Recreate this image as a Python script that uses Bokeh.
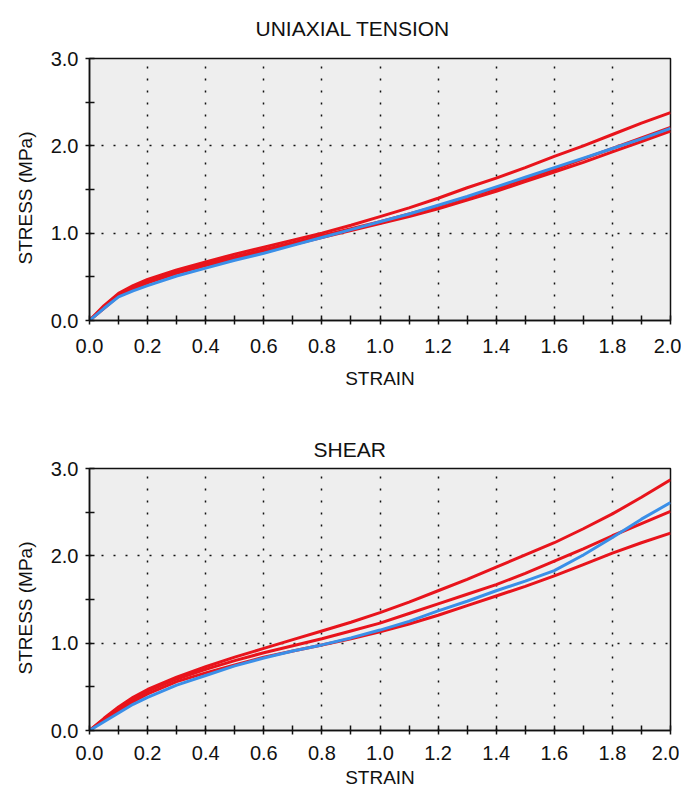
from bokeh.plotting import figure
from bokeh.layouts import column
from bokeh.models import FixedTicker, Title
from bokeh.embed import file_html
from bokeh.resources import INLINE

# ---------------- data ----------------
strain = [0.0, 0.05, 0.1, 0.15, 0.2, 0.3, 0.4, 0.5, 0.6, 0.7, 0.8, 0.9, 1.0,
          1.1, 1.2, 1.3, 1.4, 1.5, 1.6, 1.7, 1.8, 1.9, 2.0]

tension_test_a = [0.00, 0.17, 0.31, 0.40, 0.47, 0.58, 0.67, 0.76, 0.84, 0.92, 1.00, 1.09,
                  1.19, 1.29, 1.40, 1.52, 1.63, 1.75, 1.88, 2.00, 2.13, 2.26, 2.38]
tension_test_b = [0.00, 0.16, 0.30, 0.38, 0.45, 0.56, 0.65, 0.73, 0.81, 0.89, 0.97, 1.05,
                  1.13, 1.22, 1.31, 1.41, 1.51, 1.62, 1.73, 1.85, 1.97, 2.09, 2.21]
tension_test_c = [0.00, 0.14, 0.28, 0.36, 0.43, 0.54, 0.63, 0.71, 0.79, 0.87, 0.95, 1.03,
                  1.11, 1.19, 1.28, 1.38, 1.48, 1.59, 1.70, 1.81, 1.93, 2.05, 2.17]
tension_model = [0.00, 0.14, 0.27, 0.34, 0.40, 0.51, 0.60, 0.69, 0.77, 0.86, 0.95, 1.04,
                 1.13, 1.22, 1.32, 1.42, 1.53, 1.64, 1.75, 1.86, 1.97, 2.08, 2.20]

shear_test_a = [0.00, 0.14, 0.27, 0.38, 0.47, 0.61, 0.73, 0.84, 0.94, 1.04, 1.14, 1.24,
                1.35, 1.47, 1.60, 1.73, 1.87, 2.01, 2.15, 2.31, 2.48, 2.67, 2.87]
shear_test_b = [0.00, 0.13, 0.25, 0.36, 0.45, 0.59, 0.70, 0.80, 0.89, 0.97, 1.05, 1.14,
                1.23, 1.34, 1.45, 1.56, 1.67, 1.80, 1.94, 2.08, 2.23, 2.37, 2.51]
shear_test_c = [0.00, 0.12, 0.23, 0.33, 0.42, 0.56, 0.66, 0.75, 0.84, 0.91, 0.98, 1.05,
                1.13, 1.22, 1.32, 1.43, 1.54, 1.65, 1.77, 1.90, 2.03, 2.15, 2.26]
shear_model = [0.00, 0.10, 0.20, 0.30, 0.38, 0.52, 0.63, 0.74, 0.83, 0.91, 0.98, 1.06,
               1.15, 1.25, 1.37, 1.48, 1.60, 1.71, 1.83, 2.01, 2.21, 2.42, 2.61]

x_ticks = [0.0, 0.2, 0.4, 0.6, 0.8, 1.0, 1.2, 1.4, 1.6, 1.8, 2.0]
x_tick_labels = ["0.0", "0.2", "0.4", "0.6", "0.8", "1.0", "1.2", "1.4", "1.6", "1.8", "2.0"]
x_minor = [0.1, 0.3, 0.5, 0.7, 0.9, 1.1, 1.3, 1.5, 1.7, 1.9]
x_grid = [0.2, 0.4, 0.6, 0.8, 1.0, 1.2, 1.4, 1.6, 1.8]
y_ticks = [0.0, 1.0, 2.0, 3.0]
y_tick_labels = ["0.0", "1.0", "2.0", "3.0"]
y_minor = [0.5, 1.5, 2.5]
y_grid = [1.0, 2.0]

RED = "#e8141c"
BLUE = "#3a8fe8"
FONT = "Liberation Sans"
INK = "#111111"


def make_panel(title, title_off, title_valign, title_standoff, tick_standoff,
               xlabel_standoff, tests, model, left, right, top, bottom, fw, fh):
    p = figure(frame_width=fw, frame_height=fh, x_range=(0, 2), y_range=(0, 3),
               output_backend="svg", toolbar_location=None,
               min_border_left=left, min_border_right=right,
               min_border_top=top, min_border_bottom=bottom,
               background_fill_color="#eeeeee", border_fill_color="white")
    p.title = Title(text=title, align="left", offset=title_off, text_font=FONT,
                    text_font_size="21px", text_font_style="normal",
                    vertical_align=title_valign,
                    text_color=INK, standoff=title_standoff)
    p.outline_line_color = INK
    p.outline_line_width = 1.5

    for ax in (p.xaxis[0], p.yaxis[0]):
        ax.axis_line_width = 1.5
        ax.axis_line_color = INK
        ax.major_tick_line_width = 1.5
        ax.minor_tick_line_width = 1.5
        ax.major_tick_line_color = INK
        ax.minor_tick_line_color = INK
        ax.major_tick_in = 5
        ax.major_tick_out = 4
        ax.minor_tick_in = 5
        ax.minor_tick_out = 4
        ax.major_label_text_font = FONT
        ax.major_label_text_font_size = "20px"
        ax.major_label_text_color = INK
        ax.axis_label_text_font = FONT
        ax.axis_label_text_font_size = "19px"
        ax.axis_label_text_font_style = "normal"
        ax.axis_label_text_color = INK

    p.xaxis.ticker = FixedTicker(ticks=x_ticks, minor_ticks=x_minor)
    p.xaxis.major_label_overrides = dict(zip(x_ticks, x_tick_labels))
    p.yaxis.ticker = FixedTicker(ticks=y_ticks, minor_ticks=y_minor)
    p.yaxis.major_label_overrides = dict(zip(y_ticks, y_tick_labels))
    p.xaxis.axis_label = "STRAIN"
    p.xaxis.major_label_standoff = tick_standoff
    p.yaxis.major_label_standoff = 7
    p.xaxis.axis_label_standoff = xlabel_standoff

    # y-axis title, drawn as a side title so it can sit a little below centre
    p.add_layout(Title(text="STRESS (MPa)", align="left", offset=56,
                       vertical_align="bottom", standoff=24, text_font=FONT,
                       text_font_size="19px", text_font_style="normal",
                       text_color=INK), "left")

    p.xgrid.ticker = FixedTicker(ticks=x_grid)
    p.ygrid.ticker = FixedTicker(ticks=y_grid)
    for g in (p.xgrid[0], p.ygrid[0]):
        g.grid_line_color = INK
        g.grid_line_dash = "2 10"
        g.grid_line_width = 1.5

    for t in tests:
        p.line(strain, t, line_color=RED, line_width=3)
    p.line(strain, model, line_color=BLUE, line_width=3)
    return p


p1 = make_panel("UNIAXIAL TENSION", 166, "top", 33, 14, 12,
                [tension_test_a, tension_test_b, tension_test_c], tension_model,
                86, 11, 58, 87, 581, 262)
p2 = make_panel("SHEAR", 224, "bottom", 16, 11, 4,
                [shear_test_a, shear_test_b, shear_test_c], shear_model,
                88, 9, 61, 64, 581, 262)

layout = column(p1, p2, spacing=0)
open("out.html", "w").write(file_html(layout, INLINE))
